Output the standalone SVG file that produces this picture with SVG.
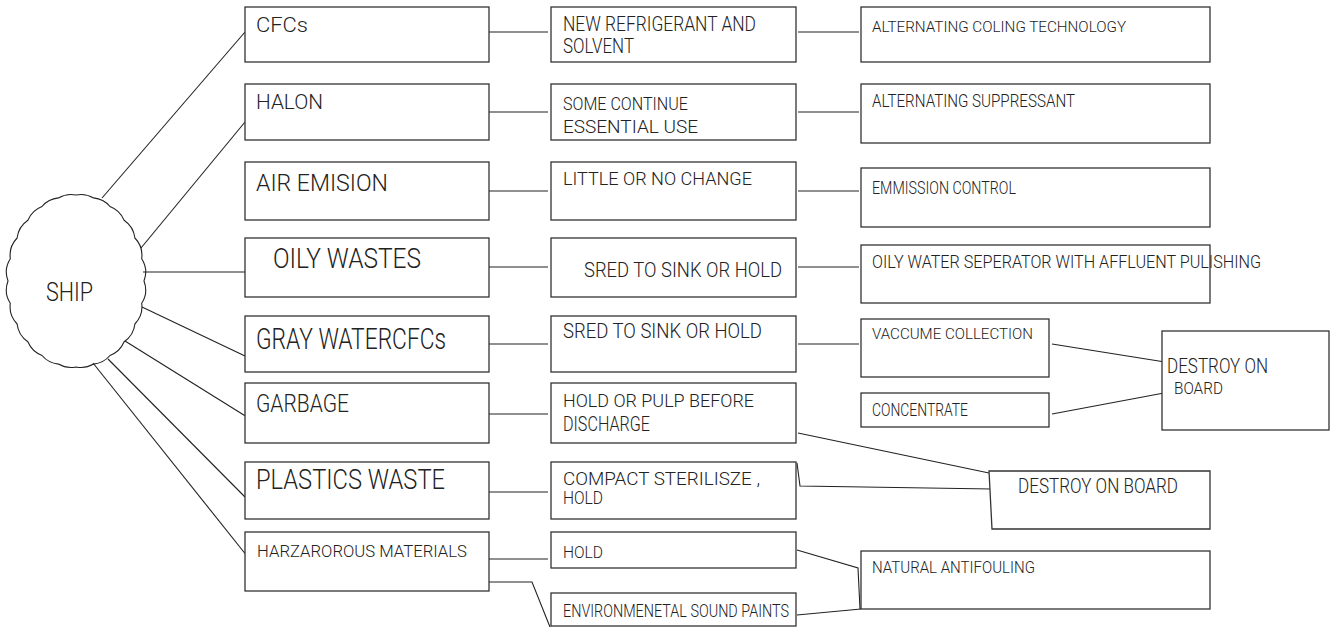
<svg xmlns="http://www.w3.org/2000/svg" width="1330" height="628" viewBox="0 0 1330 628">
<style>
.box{fill:#fff;stroke:#333;stroke-width:1.3}
.ln{fill:none;stroke:#222;stroke-width:1.1}
.t{font-family:Roboto,"Liberation Sans Narrow","DejaVu Sans Condensed","Liberation Sans",sans-serif;fill:#222;font-weight:300}
</style>
<rect width="1330" height="628" fill="#fff"/>
<g id="connectors">
<line class="ln" x1="102" y1="198" x2="245" y2="32"/>
<line class="ln" x1="141" y1="248" x2="245" y2="122"/>
<line class="ln" x1="143" y1="272" x2="247" y2="272"/>
<line class="ln" x1="142" y1="307" x2="245" y2="356"/>
<line class="ln" x1="125" y1="341" x2="247" y2="417"/>
<line class="ln" x1="108" y1="359" x2="245" y2="497"/>
<line class="ln" x1="93" y1="363" x2="247" y2="556"/>
<line class="ln" x1="489" y1="32" x2="548" y2="32"/>
<line class="ln" x1="489" y1="112" x2="548" y2="112"/>
<line class="ln" x1="489" y1="191" x2="548" y2="191"/>
<line class="ln" x1="489" y1="267" x2="548" y2="267"/>
<line class="ln" x1="489" y1="344" x2="548" y2="344"/>
<line class="ln" x1="489" y1="414" x2="548" y2="414"/>
<line class="ln" x1="489" y1="492" x2="548" y2="492"/>
<line class="ln" x1="489" y1="559" x2="548" y2="559"/>
<polyline class="ln" points="489,582 532,582 550,627"/>
<line class="ln" x1="798" y1="32" x2="859" y2="32"/>
<line class="ln" x1="798" y1="112" x2="859" y2="112"/>
<line class="ln" x1="798" y1="191" x2="859" y2="191"/>
<line class="ln" x1="798" y1="267" x2="859" y2="267"/>
<line class="ln" x1="798" y1="344" x2="859" y2="344"/>
<line class="ln" x1="1052" y1="344" x2="1165" y2="362"/>
<line class="ln" x1="1052" y1="414" x2="1164" y2="393"/>
<line class="ln" x1="798" y1="433" x2="989" y2="473"/>
<polyline class="ln" points="797,463 800,486 992,489"/>
<polyline class="ln" points="797,550 858,568 860,609"/>
<line class="ln" x1="797" y1="615" x2="861" y2="609"/>
</g>
<g id="ship">
<path class="ln" d="M144,281 A25,25 0 0 1 141.7,303.3 A25,25 0 0 1 134.9,324 A25,25 0 0 1 124.1,341.8 A25,25 0 0 1 110,355.5 A25,25 0 0 1 93.6,364.1 A25,25 0 0 1 76,367 A25,25 0 0 1 58.4,364.1 A25,25 0 0 1 42,355.5 A25,25 0 0 1 27.9,341.8 A25,25 0 0 1 17.1,324 A25,25 0 0 1 10.3,303.3 A25,25 0 0 1 8,281 A25,25 0 0 1 10.3,258.7 A25,25 0 0 1 17.1,238 A25,25 0 0 1 27.9,220.2 A25,25 0 0 1 42,206.5 A25,25 0 0 1 58.4,197.9 A25,25 0 0 1 76,195 A25,25 0 0 1 93.6,197.9 A25,25 0 0 1 110,206.5 A25,25 0 0 1 124.1,220.2 A25,25 0 0 1 134.9,238 A25,25 0 0 1 141.7,258.7 A25,25 0 0 1 144,281 Z"/>
<text class="t" x="46" y="301" font-size="25" textLength="47" lengthAdjust="spacingAndGlyphs">SHIP</text>
</g>
<g id="cfcs"><rect class="box" x="245" y="7" width="244" height="55"/><text class="t" x="256" y="32" font-size="21" textLength="52" lengthAdjust="spacingAndGlyphs">CFCs</text></g>
<g id="halon"><rect class="box" x="245" y="84" width="244" height="56"/><text class="t" x="256" y="109" font-size="21" textLength="67" lengthAdjust="spacingAndGlyphs">HALON</text></g>
<g id="air"><rect class="box" x="245" y="162" width="244" height="58"/><text class="t" x="256" y="191" font-size="23.5" textLength="132" lengthAdjust="spacingAndGlyphs">AIR EMISION</text></g>
<g id="oily"><rect class="box" x="245" y="238" width="244" height="59"/><text class="t" x="273" y="268" font-size="28" textLength="148" lengthAdjust="spacingAndGlyphs">OILY WASTES</text></g>
<g id="gray"><rect class="box" x="245" y="316" width="244" height="56"/><text class="t" x="256" y="349" font-size="30" textLength="190" lengthAdjust="spacingAndGlyphs">GRAY WATERCFCs</text></g>
<g id="garbage"><rect class="box" x="245" y="383" width="244" height="60"/><text class="t" x="256" y="412" font-size="26.5" textLength="93" lengthAdjust="spacingAndGlyphs">GARBAGE</text></g>
<g id="plastics"><rect class="box" x="245" y="462" width="244" height="57"/><text class="t" x="256" y="489" font-size="27" textLength="189" lengthAdjust="spacingAndGlyphs">PLASTICS WASTE</text></g>
<g id="hazard"><rect class="box" x="245" y="532" width="244" height="59"/><text class="t" x="257" y="557" font-size="17" textLength="210" lengthAdjust="spacingAndGlyphs">HARZAROROUS MATERIALS</text></g>
<g id="newref"><rect class="box" x="551" y="7" width="245" height="55"/><text class="t" x="563" y="31" font-size="19.5" textLength="193" lengthAdjust="spacingAndGlyphs">NEW REFRIGERANT AND</text><text class="t" x="563" y="53" font-size="19.5" textLength="71" lengthAdjust="spacingAndGlyphs">SOLVENT</text></g>
<g id="somecont"><rect class="box" x="551" y="84" width="245" height="56"/><text class="t" x="563" y="110" font-size="18.5" textLength="125" lengthAdjust="spacingAndGlyphs">SOME CONTINUE</text><text class="t" x="563" y="133" font-size="18.5" textLength="135" lengthAdjust="spacingAndGlyphs">ESSENTIAL USE</text></g>
<g id="little"><rect class="box" x="551" y="162" width="245" height="58"/><text class="t" x="563" y="185" font-size="18" textLength="189" lengthAdjust="spacingAndGlyphs">LITTLE OR NO CHANGE</text></g>
<g id="sred1"><rect class="box" x="551" y="238" width="245" height="59"/><text class="t" x="584" y="277" font-size="19.5" textLength="198" lengthAdjust="spacingAndGlyphs">SRED TO SINK OR HOLD</text></g>
<g id="sred2"><rect class="box" x="551" y="316" width="245" height="56"/><text class="t" x="563" y="338" font-size="21" textLength="199" lengthAdjust="spacingAndGlyphs">SRED TO SINK OR HOLD</text></g>
<g id="holdpulp"><rect class="box" x="551" y="383" width="245" height="60"/><text class="t" x="563" y="407" font-size="18.5" textLength="191" lengthAdjust="spacingAndGlyphs">HOLD OR PULP BEFORE</text><text class="t" x="563" y="431" font-size="21" textLength="87" lengthAdjust="spacingAndGlyphs">DISCHARGE</text></g>
<g id="compact"><rect class="box" x="551" y="462" width="245" height="57"/><text class="t" x="563" y="485" font-size="18" textLength="197" lengthAdjust="spacingAndGlyphs">COMPACT STERILISZE ,</text><text class="t" x="563" y="504" font-size="18" textLength="40" lengthAdjust="spacingAndGlyphs">HOLD</text></g>
<g id="hold"><rect class="box" x="551" y="532" width="245" height="36"/><text class="t" x="563" y="558" font-size="16.5" textLength="40" lengthAdjust="spacingAndGlyphs">HOLD</text></g>
<g id="envsound"><rect class="box" x="551" y="593" width="245" height="33"/><text class="t" x="563" y="617" font-size="18" textLength="226" lengthAdjust="spacingAndGlyphs">ENVIRONMENETAL SOUND PAINTS</text></g>
<g id="altcool"><rect class="box" x="861" y="7" width="349" height="55"/><text class="t" x="872" y="32" font-size="15" textLength="254" lengthAdjust="spacingAndGlyphs">ALTERNATING COLING TECHNOLOGY</text></g>
<g id="altsupp"><rect class="box" x="861" y="84" width="349" height="59"/><text class="t" x="872" y="107" font-size="17.5" textLength="203" lengthAdjust="spacingAndGlyphs">ALTERNATING SUPPRESSANT</text></g>
<g id="emission"><rect class="box" x="861" y="168" width="349" height="59"/><text class="t" x="872" y="194" font-size="18" textLength="144" lengthAdjust="spacingAndGlyphs">EMMISSION CONTROL</text></g>
<g id="oilysep"><rect class="box" x="861" y="245" width="349" height="58"/><text class="t" x="872" y="268" font-size="18" textLength="389" lengthAdjust="spacingAndGlyphs">OILY WATER SEPERATOR WITH AFFLUENT PULISHING</text></g>
<g id="vaccume"><rect class="box" x="861" y="319" width="188" height="58"/><text class="t" x="872" y="339" font-size="14.5" textLength="161" lengthAdjust="spacingAndGlyphs">VACCUME COLLECTION</text></g>
<g id="concentrate"><rect class="box" x="861" y="393" width="188" height="34"/><text class="t" x="872" y="416" font-size="18" textLength="96" lengthAdjust="spacingAndGlyphs">CONCENTRATE</text></g>
<g id="destroy1"><rect class="box" x="1162" y="331" width="167" height="99"/><text class="t" x="1167" y="373" font-size="20" textLength="101" lengthAdjust="spacingAndGlyphs">DESTROY ON</text><text class="t" x="1174" y="394" font-size="17" textLength="49" lengthAdjust="spacingAndGlyphs">BOARD</text></g>
<g id="destroy2"><polygon class="box" points="989,471 1210,471 1210,529 992,529"/><text class="t" x="1018" y="493" font-size="19.5" textLength="160" lengthAdjust="spacingAndGlyphs">DESTROY ON BOARD</text></g>
<g id="natural"><rect class="box" x="861" y="551" width="349" height="58"/><text class="t" x="872" y="573" font-size="16.5" textLength="163" lengthAdjust="spacingAndGlyphs">NATURAL ANTIFOULING</text></g>
</svg>
